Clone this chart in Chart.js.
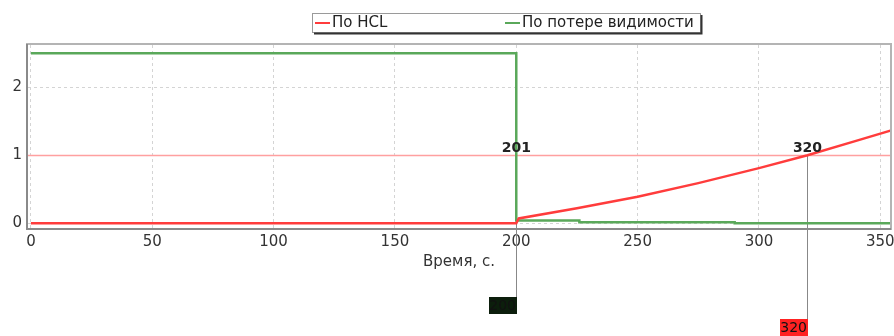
<!DOCTYPE html>
<html lang="ru">
<head>
    <meta charset="UTF-8">
    <title>По HCL / По потере видимости</title>
    <script src="https://cdn.jsdelivr.net/npm/chart.js"></script>
    <style>
        body { margin: 0; background: #fff; }
        #wrap { width: 894px; height: 336px; }
    </style>
</head>
<body>
<div id="wrap"><canvas id="chart" width="894" height="336"></canvas></div>
<script>
    // Данные
    const hclTime = [0, 200, 201, 225, 250, 275, 300, 320, 340, 355];
    const hclValues = [0, 0, 0.07, 0.22, 0.39, 0.59, 0.81, 1.0, 1.21, 1.37];
    const visTime = [0, 200, 200, 226, 226, 290, 290, 355];
    const visValues = [2.5, 2.5, 0.04, 0.04, 0.015, 0.015, 0, 0];
    const seriesLabels = ['По HCL', 'По потере видимости'];
    const threshold = 1;
    const markerTimes = [200, 320];
    const markerLabels = ['201', '320'];
    const xTicks = [0, 50, 100, 150, 200, 250, 300, 350];
    const yTicks = [0, 1, 2];

    const RED = '#ff3c3c';
    const GREEN = '#5aa85a';
    const FONT = 'DejaVu Sans';

    const toPoints = (xs, ys) => xs.map((x, i) => ({ x: x, y: ys[i] }));

    // линия порога, маркеры и рамка
    const overlay = {
        id: 'overlay',
        beforeDatasetsDraw(chart) {
            const ctx = chart.ctx, a = chart.chartArea;
            const xs = chart.scales.x, ys = chart.scales.y;
            const ty = Math.round(ys.getPixelForValue(threshold)) + 0.5;
            ctx.save();
            ctx.strokeStyle = '#ffa0a0';
            ctx.lineWidth = 1.5;
            ctx.beginPath();
            ctx.moveTo(a.left, ty);
            ctx.lineTo(a.right, ty);
            ctx.stroke();

            // вертикальные линии маркеров
            const boxTops = [297, 319];
            ctx.lineWidth = 1;
            markerTimes.forEach((t, i) => {
                const px = Math.round(xs.getPixelForValue(t)) + 0.5;
                ctx.strokeStyle = '#888';
                ctx.beginPath();
                ctx.moveTo(px, ty);
                ctx.lineTo(px, i === 0 ? boxTops[i] : chart.height);
                ctx.stroke();
            });
            ctx.restore();
        },
        afterDatasetsDraw(chart) {
            const ctx = chart.ctx, a = chart.chartArea;
            const xs = chart.scales.x, ys = chart.scales.y;
            const ty = ys.getPixelForValue(threshold);
            ctx.save();
            // рамка области графика
            ctx.lineWidth = 2;
            ctx.strokeStyle = '#b4b4b4';
            ctx.strokeRect(a.left - 1, a.top - 1, a.right - a.left + 2, a.bottom - a.top + 2);
            ctx.strokeStyle = '#8a8a8a';
            ctx.beginPath();
            ctx.moveTo(a.left - 1, a.top - 1);
            ctx.lineTo(a.left - 1, a.bottom + 1);
            ctx.lineTo(a.right + 1, a.bottom + 1);
            ctx.stroke();

            // подписи маркеров
            ctx.font = 'bold 14px ' + FONT;
            ctx.fillStyle = '#222';
            ctx.textAlign = 'center';
            ctx.textBaseline = 'alphabetic';
            markerTimes.forEach((t, i) => {
                ctx.fillText(markerLabels[i], xs.getPixelForValue(t), ty - 3);
            });

            // плашки внизу
            const boxTops = [297, 319];
            const boxColors = ['#0c1e0c', '#ff2222'];
            ctx.font = '14px ' + FONT;
            ctx.textAlign = 'right';
            ctx.textBaseline = 'middle';
            markerTimes.forEach((t, i) => {
                const px = Math.round(xs.getPixelForValue(t)) + 1;
                ctx.fillStyle = boxColors[i];
                ctx.fillRect(px - 28, boxTops[i], 28, 17);
                ctx.fillStyle = '#111';
                ctx.fillText(String(t), px - 1, boxTops[i] + 9);
            });

            // легенда
            const lx = 312, ly = 13, lw = 388, lh = 19;
            ctx.fillStyle = '#fff';
            ctx.fillRect(lx, ly, lw, lh);
            ctx.lineWidth = 1;
            ctx.strokeStyle = '#9a9a9a';
            ctx.strokeRect(lx + 0.5, ly + 0.5, lw, lh);
            ctx.lineWidth = 2;
            ctx.strokeStyle = '#333';
            ctx.beginPath();
            ctx.moveTo(lx + lw + 1.5, ly + 2);
            ctx.lineTo(lx + lw + 1.5, ly + lh + 1.5);
            ctx.lineTo(lx + 2, ly + lh + 1.5);
            ctx.stroke();
            const itemX = [lx + 3, lx + 193];
            const colors = [RED, GREEN];
            ctx.font = '15px ' + FONT;
            ctx.textAlign = 'left';
            ctx.textBaseline = 'middle';
            seriesLabels.forEach((lab, i) => {
                ctx.strokeStyle = colors[i];
                ctx.lineWidth = 2;
                ctx.beginPath();
                ctx.moveTo(itemX[i], ly + 10);
                ctx.lineTo(itemX[i] + 15, ly + 10);
                ctx.stroke();
                ctx.fillStyle = '#222';
                ctx.fillText(lab, itemX[i] + 17, ly + 10);
            });
            ctx.restore();
        }
    };

    new Chart(document.getElementById('chart').getContext('2d'), {
        type: 'line',
        data: {
            datasets: [{
                label: seriesLabels[0],
                data: toPoints(hclTime, hclValues),
                borderColor: RED,
                borderWidth: 2.5,
                pointRadius: 0,
                fill: false
            }, {
                label: seriesLabels[1],
                data: toPoints(visTime, visValues),
                borderColor: GREEN,
                borderWidth: 2.5,
                pointRadius: 0,
                fill: false
            }]
        },
        options: {
            responsive: false,
            animation: false,
            devicePixelRatio: 1,
            layout: { padding: { top: 45, right: 4, bottom: 60, left: 0 } },
            plugins: { legend: { display: false }, tooltip: { enabled: false } },
            scales: {
                x: {
                    type: 'linear',
                    min: -1.2,
                    max: 354,
                    afterBuildTicks: s => { s.ticks = xTicks.map(v => ({ value: v })); },
                    afterFit: s => { s.height = 48; s.paddingLeft = 0; s.paddingRight = 0; },
                    grid: { color: '#d4d4d4', drawTicks: false },
                    border: { display: false, dash: [3, 3] },
                    ticks: { padding: 5, color: '#333', font: { family: FONT, size: 15 } },
                    title: {
                        display: true,
                        text: 'Время, с.',
                        color: '#333',
                        padding: { top: 0, bottom: 5 },
                        font: { family: FONT, size: 15 }
                    }
                },
                y: {
                    min: -0.07,
                    max: 2.62,
                    afterBuildTicks: s => { s.ticks = yTicks.map(v => ({ value: v })); },
                    afterFit: s => { s.width = 28; s.paddingTop = 0; s.paddingBottom = 0; },
                    grid: { color: '#d4d4d4', drawTicks: false },
                    border: { display: false, dash: [3, 3] },
                    ticks: { padding: 6, color: '#333', font: { family: FONT, size: 15 } }
                }
            }
        },
        plugins: [overlay]
    });
</script>
</body>
</html>
